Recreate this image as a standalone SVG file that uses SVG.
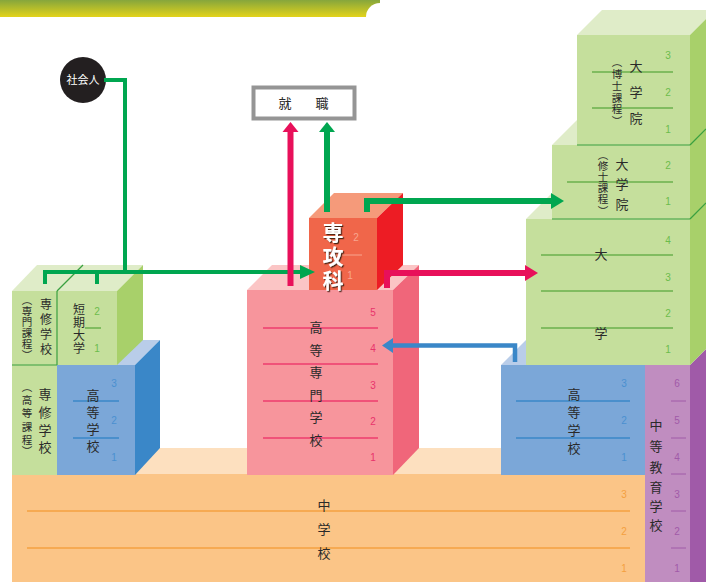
<svg xmlns="http://www.w3.org/2000/svg" width="706" height="582" viewBox="0 0 706 582">
<defs>
<linearGradient id="band" x1="0" y1="0" x2="0" y2="1">
<stop offset="0" stop-color="#86a63c"/>
<stop offset="1" stop-color="#e3d31a"/>
</linearGradient>
<filter id="sh" x="-40%" y="-40%" width="180%" height="180%">
<feDropShadow dx="1.2" dy="1.2" stdDeviation="0.6" flood-color="#3a1a10" flood-opacity="0.9"/>
</filter>
<style>
text{font-family:"Liberation Sans","Noto Sans CJK JP",sans-serif;fill:#2a2a2a;text-anchor:middle;dominant-baseline:central}
.v{font-size:13px}
.t{font-size:12px}
.s{font-size:10.5px}
.n{font-size:10px}
.g{fill:#c5df9c}.gt{fill:#dfecc8}.gs{fill:#a8d06a}
.gl{stroke:#6ab04c;stroke-width:1.5;fill:none}
.gd{stroke:#3aa040;stroke-width:1.2;fill:none}
.gn{fill:#6cbc4c}
.b{fill:#7ba7d8}.bt{fill:#b9cde9}.bs{fill:#3a87c8}
.bl{stroke:#3a87c8;stroke-width:1.5}
.bn{fill:#4a90d0}
.p{fill:#f7959c}.pt{fill:#fbc5c5}.ps{fill:#f0667a}
.pl{stroke:#ee3c6e;stroke-width:1.5}
.pn{fill:#e8336b}
.o{fill:#fbc587}.ot{fill:#fde0bf}
.ol{stroke:#f4a040;stroke-width:1.5}
.on{fill:#f4a040}
.m{fill:#c08dc0}.ms{fill:#a05aa8}
.ml{stroke:#a05aa8;stroke-width:1}
.mn{fill:#a05aa8}
.cg{stroke:#00a650;fill:none}
.cr{stroke:#e8105a;fill:none}
.cb{stroke:#3a87c8;fill:none}
.w{font-size:21px;font-weight:bold}
</style>
</defs>
<rect x="0" y="0" width="706" height="582" fill="#ffffff"/>
<rect x="0" y="0" width="380" height="17" fill="url(#band)"/>
<rect x="366" y="3" width="400" height="60" rx="14" fill="#ffffff"/>

<g id="chugakko">
<polygon class="ot" points="12,474 37,448 706,448 706,474"/>
<rect class="o" x="12" y="474" width="640" height="108"/>
<line class="ol" x1="27" y1="511" x2="630" y2="511"/>
<line class="ol" x1="27" y1="548" x2="630" y2="548"/>
<text class="n on" x="624" y="494">3</text>
<text class="n on" x="624" y="531">2</text>
<text class="n on" x="624" y="568">1</text>
<text class="v" x="324" y="505">中</text>
<text class="v" x="324" y="529">学</text>
<text class="v" x="324" y="553">校</text>
</g>

<g id="chuto">
<rect class="m" x="645" y="365" width="45" height="217"/>
<polygon class="ms" points="690,365 706,349 706,582 690,582"/>
<g class="ml">
<line x1="671" y1="401" x2="686" y2="401"/>
<line x1="671" y1="438" x2="686" y2="438"/>
<line x1="671" y1="474" x2="686" y2="474"/>
<line x1="671" y1="511" x2="686" y2="511"/>
<line x1="671" y1="548" x2="686" y2="548"/>
</g>
<text class="n mn" x="677" y="383">6</text>
<text class="n mn" x="677" y="420">5</text>
<text class="n mn" x="677" y="457">4</text>
<text class="n mn" x="677" y="494">3</text>
<text class="n mn" x="677" y="531">2</text>
<text class="n mn" x="677" y="568">1</text>
<text class="v" x="656" y="425">中</text>
<text class="v" x="656" y="446">等</text>
<text class="v" x="656" y="467">教</text>
<text class="v" x="656" y="487">育</text>
<text class="v" x="656" y="506">学</text>
<text class="v" x="656" y="525">校</text>
</g>

<g id="koko-right">
<polygon class="bt" points="501,365 526,340 670,340 645,365"/>
<rect class="b" x="501" y="365" width="144" height="110"/>
<line class="bl" x1="516" y1="401" x2="630" y2="401"/>
<line class="bl" x1="516" y1="438" x2="630" y2="438"/>
<text class="n bn" x="624" y="383">3</text>
<text class="n bn" x="624" y="420">2</text>
<text class="n bn" x="624" y="457">1</text>
<text class="v" x="574" y="394">高</text>
<text class="v" x="574" y="412">等</text>
<text class="v" x="574" y="430">学</text>
<text class="v" x="574" y="448">校</text>
</g>

<g id="daigaku">
<polygon class="gt" points="526,219 551,194 715,194 690,219"/>
<rect class="g" x="526" y="219" width="164" height="146"/>
<polygon class="gs" points="690,219 706,203 706,349 690,365"/>
<line class="gl" x1="541" y1="255" x2="673" y2="255"/>
<line class="gl" x1="541" y1="291" x2="673" y2="291"/>
<line class="gl" x1="541" y1="328" x2="673" y2="328"/>
<text class="n gn" x="668" y="240">4</text>
<text class="n gn" x="668" y="277">3</text>
<text class="n gn" x="668" y="313">2</text>
<text class="n gn" x="668" y="349">1</text>
<text class="v" x="601" y="254">大</text>
<text class="v" x="601" y="333">学</text>
</g>

<g id="shushi">
<polygon class="gt" points="552,145 577,120 715,120 690,145"/>
<rect class="g" x="552" y="145" width="138" height="74"/>
<polygon class="gs" points="690,145 706,129 706,203 690,219"/>
<line class="gd" x1="552" y1="219" x2="690" y2="219"/>
<line class="gd" x1="690" y1="219" x2="706" y2="203"/>
<line class="gl" x1="567" y1="182" x2="673" y2="182"/>
<text class="n gn" x="668" y="165">2</text>
<text class="n gn" x="668" y="201">1</text>
<text class="v" x="622" y="164">大</text>
<text class="v" x="622" y="184">学</text>
<text class="v" x="622" y="204">院</text>
<text class="s" x="603" y="154.5">︵</text>
<text class="s" x="603" y="166">修</text>
<text class="s" x="603" y="177">士</text>
<text class="s" x="603" y="188">課</text>
<text class="s" x="603" y="199">程</text>
<text class="s" x="603" y="210.5">︶</text>
</g>

<g id="hakase">
<polygon class="gt" points="577,35 602,10 715,10 690,35"/>
<rect class="g" x="577" y="35" width="113" height="110"/>
<polygon class="gs" points="690,35 706,19 706,129 690,145"/>
<line class="gd" x1="577" y1="145" x2="690" y2="145"/>
<line class="gd" x1="690" y1="145" x2="706" y2="129"/>
<line class="gl" x1="592" y1="72" x2="673" y2="72"/>
<line class="gl" x1="592" y1="108" x2="673" y2="108"/>
<text class="n gn" x="668" y="55">3</text>
<text class="n gn" x="668" y="92">2</text>
<text class="n gn" x="668" y="129">1</text>
<text class="v" x="636" y="66">大</text>
<text class="v" x="636" y="92">学</text>
<text class="v" x="636" y="118">院</text>
<text class="s" x="617" y="61.5">︵</text>
<text class="s" x="617" y="73.5">博</text>
<text class="s" x="617" y="85.5">士</text>
<text class="s" x="617" y="97.5">課</text>
<text class="s" x="617" y="109">程</text>
<text class="s" x="617" y="121">︶</text>
</g>

<g id="kosen">
<polygon class="pt" points="247,290 272,265 419,265 393,290"/>
<rect class="p" x="247" y="290" width="146" height="185"/>
<polygon class="ps" points="393,290 419,265 419,448 393,475"/>
<line class="pl" x1="263" y1="328" x2="378" y2="328"/>
<line class="pl" x1="263" y1="364" x2="378" y2="364"/>
<line class="pl" x1="263" y1="401" x2="378" y2="401"/>
<line class="pl" x1="263" y1="438" x2="378" y2="438"/>
<text class="n pn" x="373" y="312">5</text>
<text class="n pn" x="373" y="348">4</text>
<text class="n pn" x="373" y="385">3</text>
<text class="n pn" x="373" y="421">2</text>
<text class="n pn" x="373" y="457">1</text>
<text class="v" x="316" y="327">高</text>
<text class="v" x="316" y="350">等</text>
<text class="v" x="316" y="372">専</text>
<text class="v" x="316" y="395">門</text>
<text class="v" x="316" y="417">学</text>
<text class="v" x="316" y="440">校</text>
</g>

<g id="senkoka">
<polygon fill="#f59a7a" points="309,218 334,193 403,193 377,218"/>
<rect fill="#f0664a" x="309" y="218" width="68" height="72"/>
<polygon fill="#ed1c24" points="377,218 403,193 403,265 377,290"/>
<line stroke="#f8a58e" stroke-width="1" x1="335" y1="255" x2="362" y2="255"/>
<text class="n" style="fill:#f8a58e" x="356" y="237">2</text>
<text class="n" style="fill:#f8a58e" x="350" y="275">1</text>
<g filter="url(#sh)">
<text class="w" x="333" y="232" style="fill:#ffffff">専</text>
<text class="w" x="333" y="256" style="fill:#ffffff">攻</text>
<text class="w" x="333" y="280" style="fill:#ffffff">科</text>
</g>
</g>

<g id="koko-left">
<polygon class="bt" points="57,365 82,340 160,340 135,365"/>
<rect class="b" x="57" y="365" width="78" height="110"/>
<polygon class="bs" points="135,365 160,340 160,448 135,475"/>
<line class="bl" x1="73" y1="401" x2="119" y2="401"/>
<line class="bl" x1="73" y1="438" x2="119" y2="438"/>
<text class="n bn" x="114" y="383">3</text>
<text class="n bn" x="114" y="420">2</text>
<text class="n bn" x="114" y="457">1</text>
<text class="v" x="93" y="395">高</text>
<text class="v" x="93" y="412">等</text>
<text class="v" x="93" y="429">学</text>
<text class="v" x="93" y="446">校</text>
</g>

<g id="senshu-koto">
<rect class="g" x="12" y="365" width="45" height="110"/>
<text class="v" x="45" y="394">専</text>
<text class="v" x="45" y="412">修</text>
<text class="v" x="45" y="430">学</text>
<text class="v" x="45" y="447">校</text>
<text class="s" x="27" y="387">︵</text>
<text class="s" x="27" y="400">高</text>
<text class="s" x="27" y="413">等</text>
<text class="s" x="27" y="426.5">課</text>
<text class="s" x="27" y="439.5">程</text>
<text class="s" x="27" y="450.5">︶</text>
</g>

<g id="tanki-senmon">
<polygon class="gt" points="12,291 37,265 143,265 117,291"/>
<rect class="g" x="12" y="291" width="105" height="74"/>
<polygon class="gs" points="117,291 143,265 143,340 117,365"/>
<line class="gd" x1="57" y1="291" x2="83" y2="265"/>
<line class="gd" x1="57" y1="291" x2="57" y2="365"/>
<line class="gd" x1="12" y1="365" x2="57" y2="365"/>
<line class="gl" x1="85" y1="328" x2="101" y2="328"/>
<text class="n gn" x="97" y="311">2</text>
<text class="n gn" x="97" y="348">1</text>
<text class="t" x="79" y="310">短</text>
<text class="t" x="79" y="323">期</text>
<text class="t" x="79" y="336">大</text>
<text class="t" x="79" y="349">学</text>
<text class="t" x="46" y="305">専</text>
<text class="t" x="46" y="320">修</text>
<text class="t" x="46" y="335">学</text>
<text class="t" x="46" y="350">校</text>
<text class="s" x="27" y="299.5">︵</text>
<text class="s" x="27" y="310.5">専</text>
<text class="s" x="27" y="321.5">門</text>
<text class="s" x="27" y="332.5">課</text>
<text class="s" x="27" y="343.5">程</text>
<text class="s" x="27" y="355">︶</text>
</g>

<g id="shakaijin">
<circle cx="83" cy="80" r="23" fill="#231f20"/>
<text x="83" y="80" font-size="11" style="fill:#ffffff">社会人</text>
</g>

<g id="shushoku">
<rect x="253.5" y="87.5" width="101" height="31" fill="#ffffff" stroke="#959595" stroke-width="4"/>
<text class="v" x="285" y="103">就</text>
<text class="v" x="322" y="103">職</text>
</g>

<g id="connectors">
<path class="cg" stroke-width="4" d="M104,80 H125 V272"/>
<path class="cg" stroke-width="4" d="M45,284 V272 H302 M97,284 V272"/>
<polygon fill="#00a650" points="300,265 315,272 300,279"/>
<path class="cr" stroke-width="6" d="M290.5,286 V130"/>
<polygon fill="#e8105a" points="282.5,132 290.5,122 298.5,132"/>
<path class="cg" stroke-width="6" d="M327,212 V130"/>
<polygon fill="#00a650" points="319,132 327,122 335,132"/>
<path class="cg" stroke-width="6" d="M367,212 V201 H553"/>
<polygon fill="#00a650" points="551,193 564,201 551,209"/>
<path class="cr" stroke-width="6" d="M387,288 V273 H527"/>
<polygon fill="#e8105a" points="525,265 538,273 525,281"/>
<path class="cb" stroke-width="4.5" d="M515,362 V345.5 H391"/>
<polygon fill="#3a87c8" points="393,338 382,345.5 393,353"/>
</g>
</svg>
